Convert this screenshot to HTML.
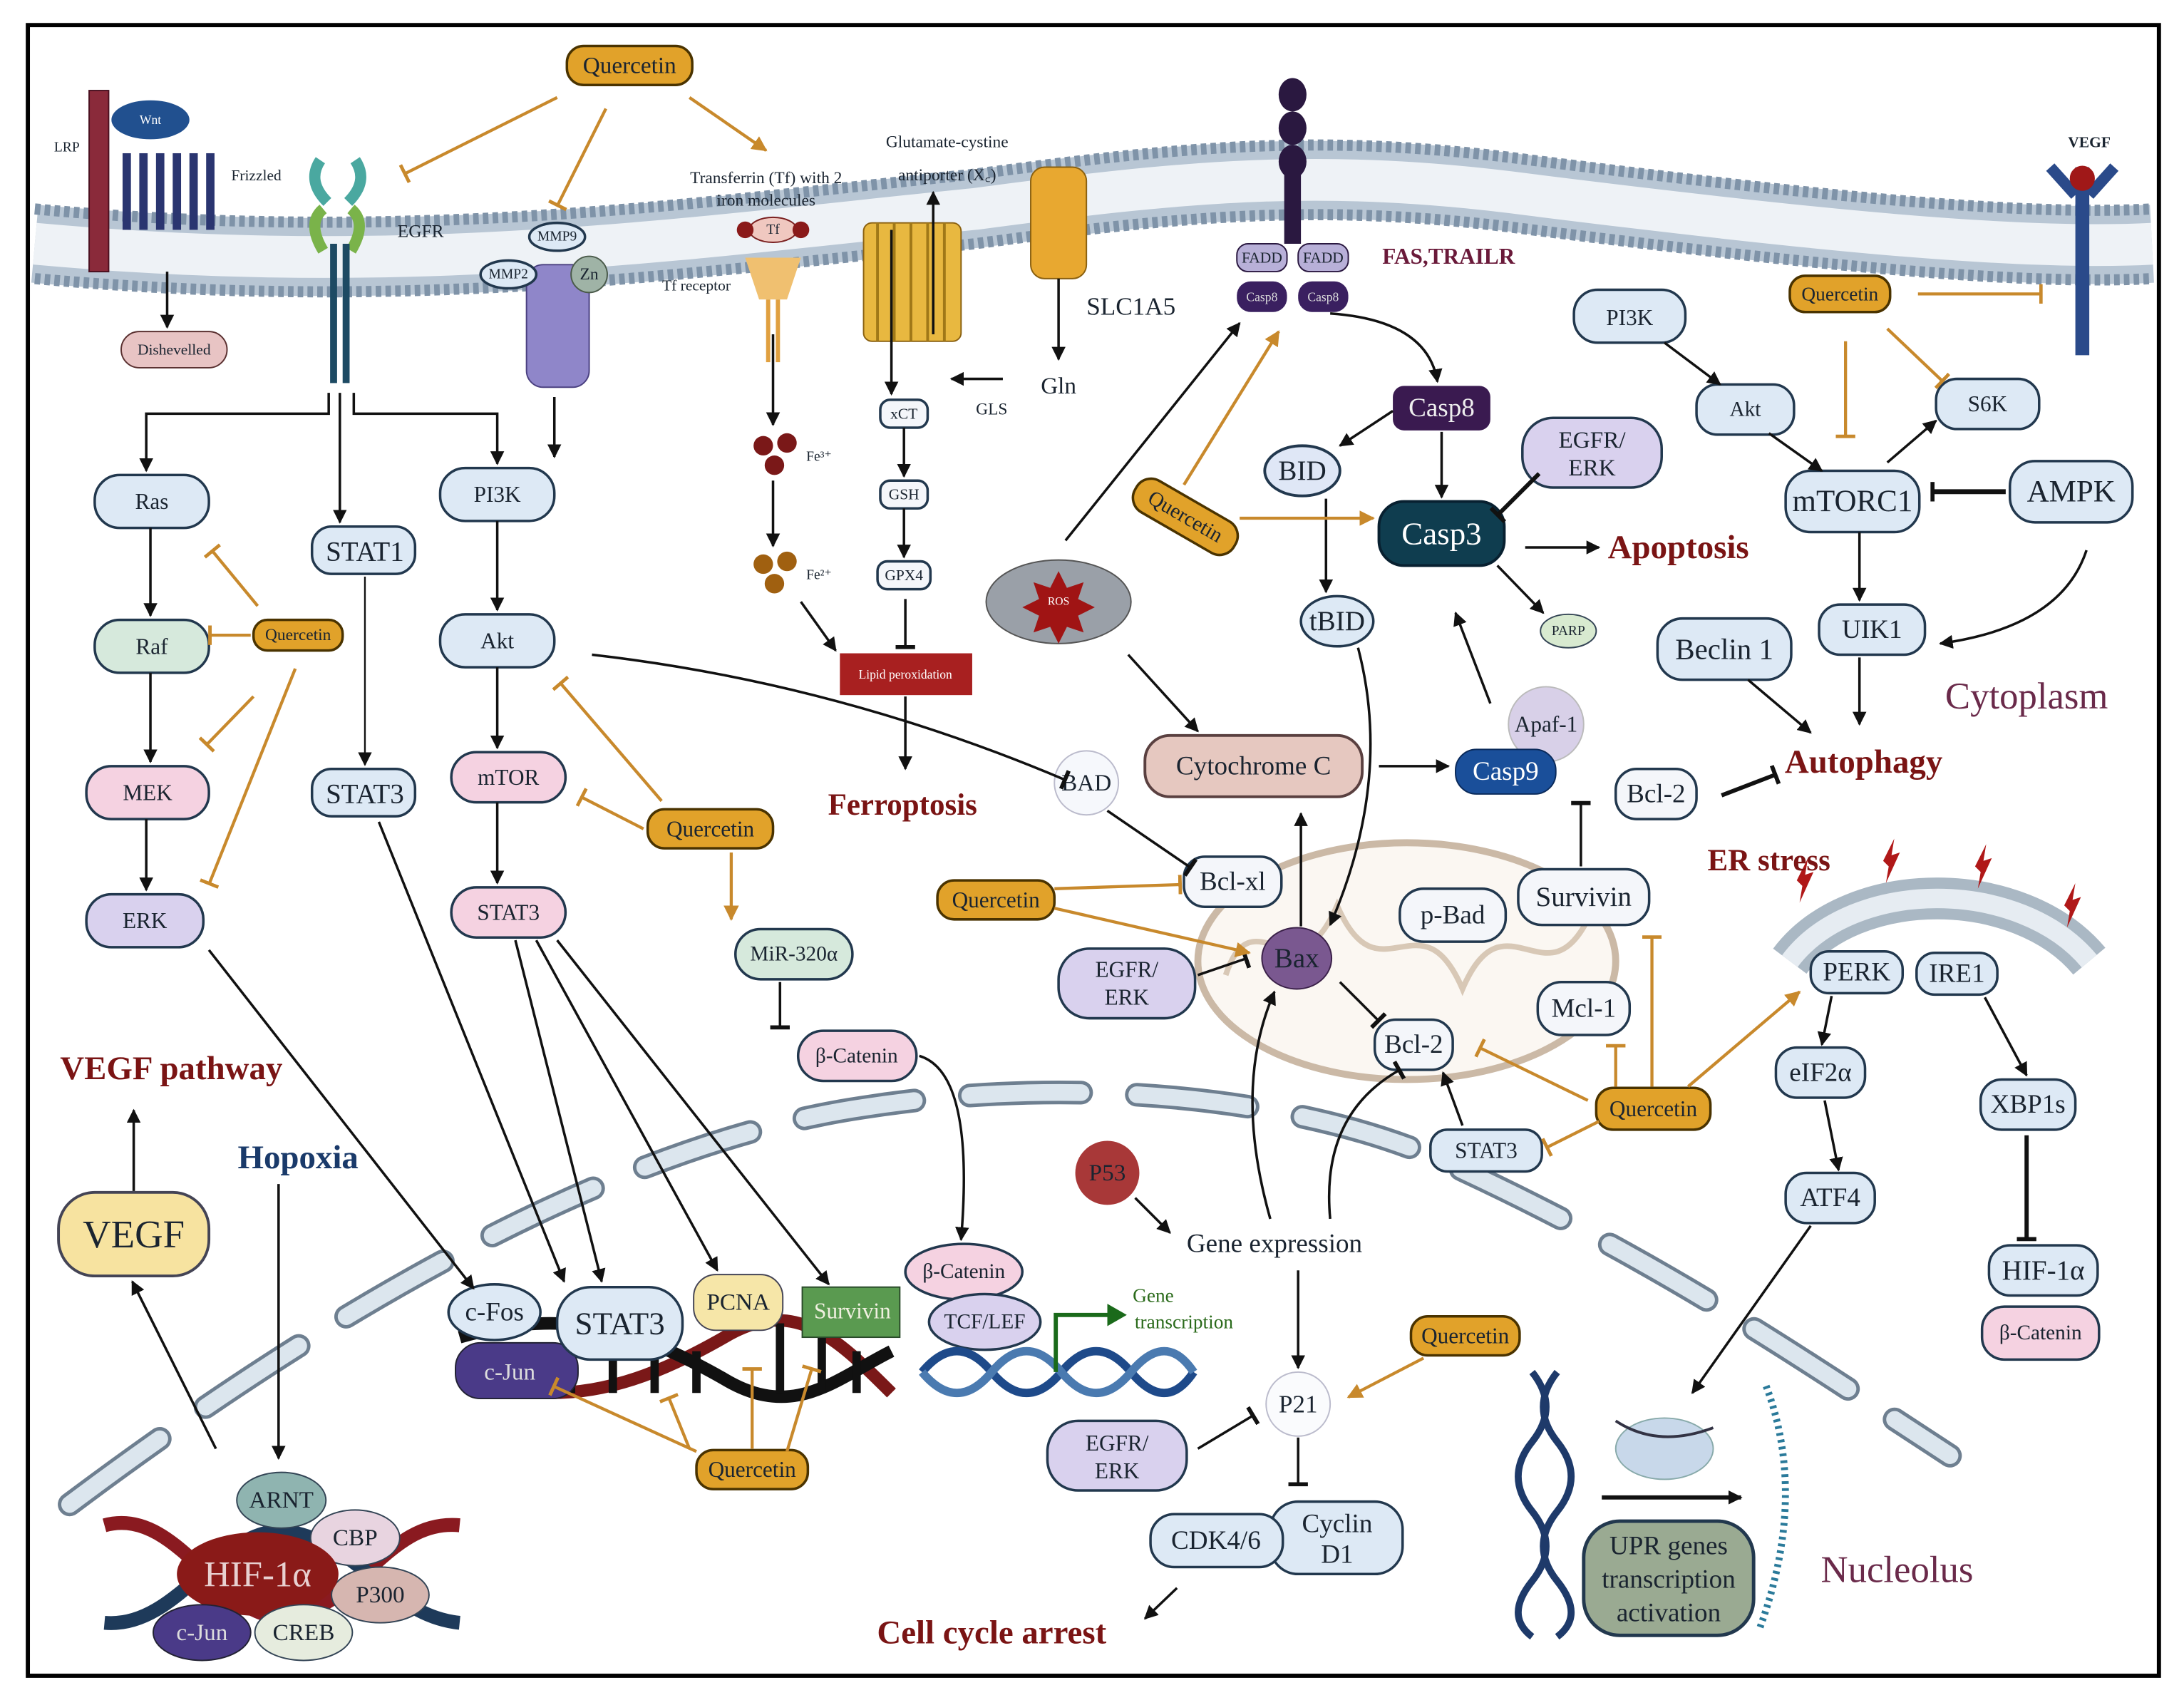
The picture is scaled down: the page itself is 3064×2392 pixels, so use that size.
<!DOCTYPE html>
<html><head><meta charset="utf-8"><style>
html,body{margin:0;padding:0;background:#fff;width:3064px;height:2392px;overflow:hidden}
svg{display:block}
text{font-family:"Liberation Serif",serif;fill:#1a2430;text-anchor:middle;dominant-baseline:central}
.n{stroke:#22384e;stroke-width:1.8}
.b{fill:#dde9f5}.p{fill:#f5d2e1}.g{fill:#d6e9dc}.l{fill:#d9d1ee}.w{fill:#f4f6fa}
.q{fill:#e1a22a;stroke:#4a3300;stroke-width:1.8}
.k{stroke:#111;stroke-width:1.8;fill:none}
.o{stroke:#c8892c;stroke-width:2.2;fill:none}
.t{font-weight:bold;fill:#7a1414}
</style></head><body>
<svg width="3064" height="2392" viewBox="0 0 1568 1224" preserveAspectRatio="none" xmlns="http://www.w3.org/2000/svg">
<defs>
<marker id="ab" viewBox="0 0 10 10" refX="9" refY="5" markerWidth="10" markerHeight="10" markerUnits="userSpaceOnUse" orient="auto"><path d="M0,0L10,5L0,10z" fill="#111"/></marker>
<marker id="ao" viewBox="0 0 10 10" refX="9" refY="5" markerWidth="11" markerHeight="11" markerUnits="userSpaceOnUse" orient="auto"><path d="M0,0L10,5L0,10z" fill="#c8892c"/></marker>
<marker id="bb" viewBox="0 0 4 14" refX="2" refY="7" markerWidth="4" markerHeight="14" markerUnits="userSpaceOnUse" orient="auto"><rect x="0" y="0" width="3" height="14" fill="#111"/></marker>
<marker id="bo" viewBox="0 0 4 14" refX="2" refY="7" markerWidth="4" markerHeight="14" markerUnits="userSpaceOnUse" orient="auto"><rect x="0" y="0" width="2.5" height="14" fill="#c8892c"/></marker>
</defs>
<rect x="0" y="0" width="1568" height="1224" fill="#fff"/>
<rect x="20" y="18" width="1530" height="1185" fill="none" stroke="#000" stroke-width="3"/>

<!-- plasma membrane -->
<path d="M25,175 C300,200 500,170 700,150 C850,130 950,120 1100,140 C1300,165 1450,180 1545,175" stroke="#b8c6d4" stroke-width="56" fill="none"/>
<path d="M25,175 C300,200 500,170 700,150 C850,130 950,120 1100,140 C1300,165 1450,180 1545,175" stroke="#eef2f6" stroke-width="30" fill="none"/>
<path d="M25,150 C300,175 500,145 700,125 C850,105 950,95 1100,115 C1300,140 1450,155 1545,150" stroke="#7f93a8" stroke-width="8" stroke-dasharray="4 3" fill="none"/>
<path d="M25,200 C300,225 500,195 700,175 C850,155 950,145 1100,165 C1300,190 1450,205 1545,200" stroke="#7f93a8" stroke-width="8" stroke-dasharray="4 3" fill="none"/>

<!-- nuclear envelope -->
<path d="M50,1080 C250,930 450,820 620,795 C780,770 950,790 1050,840 C1200,910 1300,980 1400,1045" stroke="#6e7f90" stroke-width="17" stroke-dasharray="80 40" stroke-linecap="round" fill="none"/>
<path d="M50,1080 C250,930 450,820 620,795 C780,770 950,790 1050,840 C1200,910 1300,980 1400,1045" stroke="#dce6ee" stroke-width="12" stroke-dasharray="80 40" stroke-linecap="round" fill="none"/>

<!-- ER -->
<path d="M1285,690 C1330,630 1450,630 1500,690" stroke="#aab8c4" stroke-width="30" fill="none"/>
<path d="M1285,690 C1330,630 1450,630 1500,690" stroke="#e6ecf2" stroke-width="14" fill="none"/>
<g fill="#b01818"><path d="M1290,632l8,-16l-2,12l6,-2l-10,22l2,-12z"/><path d="M1352,618l8,-16l-2,12l6,-2l-10,22l2,-12z"/><path d="M1418,622l8,-16l-2,12l6,-2l-10,22l2,-12z"/><path d="M1482,650l8,-16l-2,12l6,-2l-10,22l2,-12z"/></g>

<!-- mitochondrion -->
<ellipse cx="1010" cy="690" rx="150" ry="85" fill="#fbf7f2" stroke="#cbb9a6" stroke-width="5"/>
<path d="M880,700 C900,640 930,720 960,650 C990,720 1020,640 1050,710 C1080,640 1110,720 1140,660" stroke="#d8c8b6" stroke-width="4" fill="none"/>

<!-- top receptors -->
<rect x="64" y="65" width="14" height="130" fill="#8a2a3a" stroke="#4a1020"/>
<ellipse cx="108" cy="86" rx="28" ry="14" fill="#21508f"/><text x="108" y="86" font-size="9" style="fill:#fff">Wnt</text>
<text x="48" y="106" font-size="10">LRP</text><text x="184" y="126" font-size="11">Frizzled</text>
<g fill="#2a3570"><rect x="88" y="110" width="6" height="55"/><rect x="100" y="110" width="6" height="55"/><rect x="112" y="110" width="6" height="55"/><rect x="124" y="110" width="6" height="55"/><rect x="136" y="110" width="6" height="55"/><rect x="148" y="110" width="6" height="55"/></g>
<rect x="87" y="238" width="76" height="26" rx="13" fill="#e8c4c4" stroke="#5a3030"/><text x="125" y="251" font-size="11" font-family="Liberation Sans">Dishevelled</text>
<path d="M230,115 q-10,15 5,30 M255,115 q10,15 -5,30" stroke="#4aa8a0" stroke-width="8" fill="none"/>
<path d="M232,150 q-12,10 0,30 M252,150 q12,10 0,30" stroke="#7ab34a" stroke-width="8" fill="none"/>
<rect x="237" y="175" width="5" height="100" fill="#1d4a63"/><rect x="246" y="175" width="5" height="100" fill="#1d4a63"/>
<text x="302" y="166" font-size="13" font-family="Liberation Sans">EGFR</text>
<rect x="378" y="190" width="45" height="88" rx="12" fill="#8f86c9" stroke="#4a4080"/>
<ellipse cx="400" cy="170" rx="20" ry="10" class="b n"/><text x="400" y="170" font-size="10">MMP9</text>
<ellipse cx="365" cy="197" rx="20" ry="10" class="b n"/><text x="365" y="197" font-size="10">MMP2</text>
<circle cx="423" cy="197" r="13" fill="#9fb3a6" stroke="#4a5a4a"/><text x="423" y="197" font-size="12">Zn</text>
<text x="550" y="128" font-size="12">Transferrin (Tf) with 2</text><text x="550" y="144" font-size="12">iron molecules</text>
<ellipse cx="555" cy="165" rx="17" ry="9" fill="#f0c8c0" stroke="#7a2020"/><circle cx="535" cy="165" r="6" fill="#8a1a1a"/><circle cx="575" cy="165" r="6" fill="#8a1a1a"/><text x="555" y="165" font-size="10">Tf</text>
<path d="M535,185 l40,0 l-10,30 l-20,0z" fill="#f0c070"/><rect x="550" y="215" width="3" height="45" fill="#e0a040"/><rect x="557" y="215" width="3" height="45" fill="#e0a040"/>
<text x="500" y="205" font-size="11">Tf receptor</text>
<text x="680" y="102" font-size="12">Glutamate-cystine</text><text x="680" y="126" font-size="12">antiporter (X꜀)</text>
<rect x="620" y="160" width="70" height="85" rx="6" fill="#e8b840" stroke="#8a6010"/>
<path d="M630,160v85M642,160v85M654,160v85M666,160v85M678,160v85" stroke="#a07818" stroke-width="2"/>
<rect x="740" y="120" width="40" height="80" rx="10" fill="#e8a830" stroke="#8a6010"/>
<text x="812" y="220" font-size="18">SLC1A5</text><text x="760" y="277" font-size="17">Gln</text><text x="712" y="294" font-size="12">GLS</text>
<g fill="#2a1840"><ellipse cx="928" cy="68" rx="10" ry="12"/><ellipse cx="928" cy="92" rx="10" ry="12"/><ellipse cx="928" cy="116" rx="10" ry="12"/><rect x="922" y="125" width="12" height="50"/></g>
<rect x="888" y="175" width="36" height="20" rx="8" fill="#b8b0d8" stroke="#2a1840"/><text x="906" y="185" font-size="11">FADD</text>
<rect x="932" y="175" width="36" height="20" rx="8" fill="#b8b0d8" stroke="#2a1840"/><text x="950" y="185" font-size="11">FADD</text>
<rect x="888" y="202" width="36" height="22" rx="10" fill="#3a2060"/><text x="906" y="213" font-size="9" style="fill:#ddd">Casp8</text>
<rect x="932" y="202" width="36" height="22" rx="10" fill="#3a2060"/><text x="950" y="213" font-size="9" style="fill:#ddd">Casp8</text>
<text x="1040" y="184" font-size="16" font-weight="bold" style="fill:#6a1a3a">FAS,TRAILR</text>
<rect x="1490" y="120" width="10" height="135" fill="#2a4a8a"/><path d="M1472,120l18,20M1518,120l-18,20" stroke="#2a4a8a" stroke-width="8"/><circle cx="1495" cy="128" r="9" fill="#a01818"/>
<text x="1500" y="102" font-size="11" font-weight="bold" font-family="Liberation Sans">VEGF</text>

<!-- ferroptosis column -->
<circle cx="548" cy="320" r="7" fill="#7a1818"/><circle cx="565" cy="318" r="7" fill="#7a1818"/><circle cx="556" cy="334" r="7" fill="#7a1818"/><text x="588" y="328" font-size="10">Fe³⁺</text>
<circle cx="548" cy="405" r="7" fill="#a06010"/><circle cx="565" cy="403" r="7" fill="#a06010"/><circle cx="556" cy="419" r="7" fill="#a06010"/><text x="588" y="413" font-size="10">Fe²⁺</text>
<rect x="632" y="287" width="34" height="20" rx="7" class="w n"/><text x="649" y="297" font-size="11">xCT</text>
<rect x="632" y="345" width="34" height="20" rx="7" class="w n"/><text x="649" y="355" font-size="11">GSH</text>
<rect x="630" y="403" width="38" height="20" rx="7" class="w n"/><text x="649" y="413" font-size="11">GPX4</text>
<rect x="603" y="469" width="95" height="30" fill="#a82020"/><text x="650" y="484" font-size="9" font-family="Liberation Sans" style="fill:#fff">Lipid peroxidation</text>
<text x="648" y="578" font-size="22" class="t">Ferroptosis</text>
<ellipse cx="760" cy="432" rx="52" ry="30" fill="#9aa0a8" stroke="#555"/><path d="M760,410l6,12l12,-4l-4,12l12,6l-12,6l4,12l-12,-4l-6,12l-6,-12l-12,4l4,-12l-12,-6l12,-6l-4,-12l12,4z" fill="#a01414"/><text x="760" y="432" font-size="8" style="fill:#fff">ROS</text>

<!-- left nodes -->
<g font-size="16">
<rect x="68" y="341" width="82" height="38" rx="18" class="b n"/><text x="109" y="360">Ras</text>
<rect x="68" y="445" width="82" height="38" rx="18" class="g n"/><text x="109" y="464">Raf</text>
<rect x="62" y="550" width="88" height="38" rx="18" class="p n"/><text x="106" y="569">MEK</text>
<rect x="62" y="642" width="84" height="38" rx="18" class="l n"/><text x="104" y="661">ERK</text>
<rect x="224" y="378" width="74" height="34" rx="14" class="b n" stroke-width="2.5"/><text x="262" y="396" font-size="20">STAT1</text>
<rect x="224" y="552" width="74" height="34" rx="14" class="b n" stroke-width="2.5"/><text x="262" y="570" font-size="20">STAT3</text>
<rect x="316" y="336" width="82" height="38" rx="18" class="b n"/><text x="357" y="355">PI3K</text>
<rect x="316" y="441" width="82" height="38" rx="18" class="b n"/><text x="357" y="460">Akt</text>
<rect x="324" y="540" width="82" height="36" rx="18" class="p n"/><text x="365" y="558">mTOR</text>
<rect x="324" y="637" width="82" height="36" rx="18" class="p n"/><text x="365" y="655">STAT3</text>
<rect x="528" y="667" width="84" height="36" rx="18" class="g n"/><text x="570" y="685" font-size="15">MiR-320α</text>
<rect x="573" y="740" width="85" height="36" rx="18" class="p n"/><text x="615" y="758" font-size="15">β-Catenin</text>
</g>
<text x="123" y="767" font-size="24" class="t">VEGF pathway</text>
<text x="214" y="831" font-size="24" font-weight="bold" style="fill:#1a3a6a">Hopoxia</text>
<rect x="42" y="856" width="108" height="60" rx="26" fill="#f7e3a0" stroke="#445" stroke-width="2"/><text x="96" y="886" font-size="28">VEGF</text>
<!-- HIF complex -->
<path d="M75,1095 C130,1080 160,1170 210,1160 C260,1150 280,1090 330,1095" stroke="#8a1a20" stroke-width="10" fill="none"/>
<path d="M75,1165 C130,1170 160,1090 210,1100 C260,1110 280,1160 330,1165" stroke="#1e3a5a" stroke-width="10" fill="none"/>
<ellipse cx="202" cy="1077" rx="32" ry="20" fill="#8fb4b0" stroke="#345"/><text x="202" y="1077" font-size="17">ARNT</text>
<ellipse cx="255" cy="1104" rx="32" ry="20" fill="#e8d4e0" stroke="#345"/><text x="255" y="1104" font-size="17">CBP</text>
<ellipse cx="273" cy="1145" rx="35" ry="20" fill="#d6b6b0" stroke="#345"/><text x="273" y="1145" font-size="17">P300</text>
<ellipse cx="185" cy="1130" rx="58" ry="30" fill="#8a1a18"/><text x="185" y="1130" font-size="26" style="fill:#e8d0d0">HIF-1α</text>
<ellipse cx="218" cy="1172" rx="35" ry="20" fill="#e6ecde" stroke="#345"/><text x="218" y="1172" font-size="17">CREB</text>
<ellipse cx="145" cy="1172" rx="35" ry="20" fill="#4a3a88" stroke="#223"/><text x="145" y="1172" font-size="17" style="fill:#ddd">c-Jun</text>

<!-- DNA middle -->
<path d="M330,990 C400,1010 450,1000 520,960 C570,930 600,960 640,1000" stroke="#7a1818" stroke-width="9" fill="none"/>
<path d="M330,960 C400,940 450,950 520,990 C570,1020 600,990 640,970" stroke="#111" stroke-width="9" fill="none"/>
<path d="M410,970v30M440,970v30M470,970v30M500,970v30M560,950v50M590,960v40M615,970v30" stroke="#111" stroke-width="6"/>
<rect x="327" y="964" width="88" height="40" rx="18" fill="#4a3a88" stroke="#223"/><text x="366" y="985" font-size="17" style="fill:#ddd">c-Jun</text>
<ellipse cx="355" cy="942" rx="33" ry="20" class="b n" stroke-width="2.5"/><text x="355" y="942" font-size="19">c-Fos</text>
<rect x="400" y="924" width="90" height="52" rx="24" class="b n" stroke-width="2.5"/><text x="445" y="950" font-size="23">STAT3</text>
<rect x="498" y="915" width="64" height="40" rx="16" fill="#f6e6a8" stroke="#445"/><text x="530" y="935" font-size="17">PCNA</text>
<rect x="576" y="924" width="70" height="36" fill="#5a9a50" stroke="#2a4a2a"/><text x="612" y="941" font-size="16" style="fill:#f0f0e0">Survivin</text>
<ellipse cx="692" cy="913" rx="42" ry="20" class="p n"/><text x="692" y="913" font-size="15">β-Catenin</text>
<ellipse cx="707" cy="949" rx="40" ry="20" class="l n"/><text x="707" y="949" font-size="15">TCF/LEF</text>
<path d="M662,985 q25,-30 50,0 q25,30 50,0 q25,-30 50,0 q25,30 45,0" stroke="#1e4a8a" stroke-width="6" fill="none"/>
<path d="M662,985 q25,30 50,0 q25,-30 50,0 q25,30 50,0 q25,-30 45,0" stroke="#4a7ab0" stroke-width="6" fill="none"/>
<path d="M758,985V944H795" stroke="#1a6a1a" stroke-width="3" fill="none"/><path d="M795,936l14,8l-14,8z" fill="#1a6a1a"/>
<text x="828" y="930" font-size="14" style="fill:#2a6a1a">Gene</text><text x="850" y="949" font-size="14" style="fill:#2a6a1a">transcription</text>

<!-- right/middle nodes -->
<rect x="1000" y="277" width="70" height="32" rx="8" fill="#3a1a50"/><text x="1035" y="293" font-size="19" style="fill:#eee">Casp8</text>
<ellipse cx="935" cy="338" rx="27" ry="18" fill="#dfe7f6" stroke="#22384e" stroke-width="2"/><text x="935" y="338" font-size="20">BID</text>
<rect x="1093" y="300" width="100" height="50" rx="22" class="l n"/><text x="1143" y="316" font-size="17">EGFR/</text><text x="1143" y="336" font-size="17">ERK</text>
<rect x="810" y="358" width="82" height="26" rx="12" class="q" transform="rotate(30 851 371)"/><text x="851" y="371" font-size="15" transform="rotate(30 851 371)">Quercetin</text>
<rect x="990" y="360" width="90" height="46" rx="18" fill="#0f3d4f" stroke="#082030" stroke-width="2"/><text x="1035" y="383" font-size="23" style="fill:#fff">Casp3</text>
<text x="1205" y="393" font-size="24" class="t">Apoptosis</text>
<ellipse cx="960" cy="446" rx="26" ry="18" class="b n" stroke-width="2"/><text x="960" y="446" font-size="20">tBID</text>
<ellipse cx="1126" cy="453" rx="20" ry="12" fill="#d8ead0" stroke="#345"/><text x="1126" y="453" font-size="10">PARP</text>
<circle cx="1110" cy="520" r="27" fill="#d8d0e8" stroke="#bbb"/><text x="1110" y="520" font-size="16">Apaf-1</text>
<rect x="1045" y="538" width="72" height="32" rx="15" fill="#1a4f9a" stroke="#0a2a5a"/><text x="1081" y="554" font-size="19" style="fill:#fff">Casp9</text>
<rect x="822" y="528" width="156" height="44" rx="18" fill="#e6c8c0" stroke="#5a4040" stroke-width="2"/><text x="900" y="550" font-size="19">Cytochrome C</text>
<circle cx="780" cy="562" r="23" fill="#f6f8fc" stroke="#bbc"/><text x="780" y="562" font-size="17">BAD</text>
<rect x="850" y="615" width="70" height="36" rx="15" class="w n"/><text x="885" y="633" font-size="19">Bcl-xl</text>
<ellipse cx="931" cy="688" rx="25" ry="22" fill="#7a5890" stroke="#3a2048"/><text x="931" y="688" font-size="20">Bax</text>
<rect x="1005" y="638" width="76" height="38" rx="17" class="w n"/><text x="1043" y="657" font-size="19">p-Bad</text>
<rect x="1090" y="624" width="94" height="40" rx="17" class="w n"/><text x="1137" y="644" font-size="20">Survivin</text>
<rect x="1104" y="705" width="66" height="38" rx="17" class="w n"/><text x="1137" y="724" font-size="19">Mcl-1</text>
<rect x="987" y="732" width="56" height="36" rx="15" class="w n"/><text x="1015" y="750" font-size="19">Bcl-2</text>
<rect x="1027" y="811" width="80" height="30" rx="12" class="b n"/><text x="1067" y="826" font-size="16">STAT3</text>
<rect x="760" y="681" width="98" height="50" rx="22" class="l n"/><text x="809" y="696" font-size="16">EGFR/</text><text x="809" y="716" font-size="16">ERK</text>
<circle cx="795" cy="842" r="23" fill="#a83838"/><text x="795" y="842" font-size="17">P53</text>
<text x="915" y="893" font-size="19">Gene expression</text>
<circle cx="932" cy="1008" r="23" fill="#fafbfd" stroke="#bbc"/><text x="932" y="1008" font-size="18">P21</text>
<rect x="752" y="1020" width="100" height="50" rx="22" class="l n"/><text x="802" y="1036" font-size="16">EGFR/</text><text x="802" y="1056" font-size="16">ERK</text>
<rect x="912" y="1078" width="95" height="52" rx="20" class="b n" stroke-width="2.5"/><text x="960" y="1094" font-size="19">Cyclin</text><text x="960" y="1116" font-size="19">D1</text>
<rect x="826" y="1087" width="95" height="38" rx="17" class="b n" stroke-width="2.5"/><text x="873" y="1106" font-size="19">CDK4/6</text>
<text x="712" y="1172" font-size="24" class="t">Cell cycle arrest</text>

<rect x="1130" y="208" width="80" height="38" rx="17" class="b n"/><text x="1170" y="228" font-size="16">PI3K</text>
<rect x="1218" y="276" width="70" height="36" rx="15" class="b n"/><text x="1253" y="294" font-size="15">Akt</text>
<rect x="1282" y="338" width="96" height="44" rx="18" class="b n" stroke-width="2.5"/><text x="1330" y="360" font-size="22">mTORC1</text>
<rect x="1390" y="272" width="74" height="36" rx="15" class="b n"/><text x="1427" y="290" font-size="16">S6K</text>
<rect x="1443" y="331" width="88" height="44" rx="18" class="b n" stroke-width="2.5"/><text x="1487" y="353" font-size="22">AMPK</text>
<rect x="1306" y="434" width="76" height="36" rx="15" class="b n" stroke-width="2.5"/><text x="1344" y="452" font-size="19">UIK1</text>
<rect x="1190" y="444" width="96" height="44" rx="18" class="b n" stroke-width="2.5"/><text x="1238" y="466" font-size="21">Beclin 1</text>
<rect x="1160" y="552" width="58" height="36" rx="15" class="w n"/><text x="1189" y="570" font-size="19">Bcl-2</text>
<text x="1338" y="547" font-size="24" class="t">Autophagy</text>
<text x="1455" y="500" font-size="27" style="fill:#6a2a4a">Cytoplasm</text>
<text x="1270" y="618" font-size="22" class="t">ER stress</text>
<rect x="1300" y="683" width="66" height="30" rx="13" class="b n" stroke-width="2.5"/><text x="1333" y="698" font-size="19">PERK</text>
<rect x="1376" y="684" width="58" height="30" rx="13" class="b n" stroke-width="2.5"/><text x="1405" y="699" font-size="19">IRE1</text>
<rect x="1275" y="752" width="64" height="36" rx="15" class="b n" stroke-width="2.5"/><text x="1307" y="770" font-size="19">eIF2α</text>
<rect x="1422" y="775" width="68" height="36" rx="15" class="b n" stroke-width="2.5"/><text x="1456" y="793" font-size="19">XBP1s</text>
<rect x="1282" y="842" width="64" height="36" rx="15" class="b n" stroke-width="2.5"/><text x="1314" y="860" font-size="19">ATF4</text>
<rect x="1428" y="894" width="78" height="36" rx="15" class="b n" stroke-width="2.5"/><text x="1467" y="912" font-size="20">HIF-1α</text>
<rect x="1423" y="938" width="84" height="38" rx="16" class="p n"/><text x="1465" y="957" font-size="15">β-Catenin</text>
<!-- DNA right, ribosome -->
<path d="M1100,985 q20,25 0,50 q-20,25 0,50 q20,25 0,50 q-20,25 0,40" stroke="#1e3a6a" stroke-width="5" fill="none"/>
<path d="M1118,985 q-20,25 0,50 q20,25 0,50 q-20,25 0,50 q20,25 0,40" stroke="#1e3a6a" stroke-width="5" fill="none"/>
<ellipse cx="1195" cy="1040" rx="35" ry="22" fill="#c8d8ea" stroke="#8aa"/><path d="M1160,1020 q30,20 70,5" stroke="#334" stroke-width="2" fill="none"/>
<path d="M1268,995 q30,80 -5,175" stroke="#2a7a9a" stroke-width="5" stroke-dasharray="2 3" fill="none"/>
<rect x="1137" y="1092" width="122" height="82" rx="26" fill="#9aaa92" stroke="#22384e" stroke-width="2.5"/><text x="1198" y="1110" font-size="19">UPR genes</text><text x="1198" y="1134" font-size="19">transcription</text><text x="1198" y="1158" font-size="19">activation</text>
<text x="1362" y="1127" font-size="27" style="fill:#6a2a4a">Nucleolus</text>

<!-- Quercetins -->
<g font-size="16">
<rect x="407" y="33" width="90" height="28" rx="12" class="q"/><text x="452" y="47" font-size="17">Quercetin</text>
<rect x="182" y="445" width="64" height="22" rx="10" class="q"/><text x="214" y="456" font-size="12">Quercetin</text>
<rect x="465" y="581" width="90" height="28" rx="12" class="q"/><text x="510" y="595">Quercetin</text>
<rect x="673" y="632" width="84" height="28" rx="12" class="q"/><text x="715" y="646">Quercetin</text>
<rect x="1285" y="198" width="72" height="26" rx="11" class="q"/><text x="1321" y="211" font-size="14">Quercetin</text>
<rect x="1146" y="781" width="82" height="30" rx="12" class="q"/><text x="1187" y="796">Quercetin</text>
<rect x="1013" y="945" width="78" height="28" rx="12" class="q"/><text x="1052" y="959">Quercetin</text>
<rect x="500" y="1041" width="80" height="28" rx="12" class="q"/><text x="540" y="1055">Quercetin</text>
</g>

<!-- black edges -->
<g class="k" marker-end="url(#ab)">
<path d="M120,195V235"/><path d="M236,282V297H105V338"/><path d="M244,282V375"/><path d="M254,282V297H357V333"/>
<path d="M398,285V328"/><path d="M108,379V442"/><path d="M108,483V547"/><path d="M105,588V639"/>
<path d="M262,414V549" stroke-width="1.2"/><path d="M357,374V438"/><path d="M357,479V537"/><path d="M357,576V634"/>
<path d="M150,682L340,925"/><path d="M272,590L405,920"/><path d="M370,675L432,920"/><path d="M385,675L515,912"/><path d="M400,675L595,922"/>
<path d="M660,758Q700,770 690,890"/>
<path d="M555,240V305"/><path d="M555,345V392"/><path d="M575,432L600,467"/>
<path d="M649,307V342"/><path d="M649,365V400"/><path d="M650,500V552"/>
<path d="M720,272H683"/><path d="M760,200V258"/><path d="M670,240V138"/><path d="M640,165V283"/>
<path d="M765,388L890,232"/><path d="M810,470L860,525"/>
<path d="M955,225Q1025,230 1032,274"/><path d="M1000,295L962,320"/><path d="M1035,310V357"/>
<path d="M952,358V425"/><path d="M1095,393H1148"/><path d="M1075,406L1108,440"/>
<path d="M975,465Q1000,560 955,664"/><path d="M1070,505L1045,440"/><path d="M990,550H1040"/>
<path d="M934,665V584"/><path d="M1050,808L1036,770"/><path d="M815,860L840,885"/>
<path d="M912,875Q885,780 915,712"/><path d="M932,912V982"/><path d="M845,1140L822,1162"/>
<path d="M1195,246L1235,276"/><path d="M1270,311L1308,338"/><path d="M1355,332L1390,302"/>
<path d="M1335,382V431"/><path d="M1498,395Q1480,450 1393,462"/><path d="M1335,472V520"/><path d="M1255,488L1300,526"/>
<path d="M1315,715L1308,750"/><path d="M1310,790L1320,840"/><path d="M1425,716L1455,772"/>
<path d="M1300,880L1215,1000"/><path d="M1150,1075H1250" stroke-width="3"/>
<path d="M96,855V797"/><path d="M200,850V1047"/><path d="M155,1040L95,920"/>
</g>
<g class="k" marker-end="url(#bb)">
<path d="M425,470Q600,490 765,560"/><path d="M795,582L855,623"/><path d="M650,430V465"/>
<path d="M1105,340L1075,370" stroke-width="3"/><path d="M1135,622V576"/><path d="M962,705L990,733"/>
<path d="M860,700L895,688"/><path d="M955,875Q948,800 1005,768"/><path d="M860,1040L900,1016"/>
<path d="M932,1032V1066"/><path d="M1440,353H1387" stroke-width="3.5"/><path d="M1236,571L1275,556" stroke-width="3"/>
<path d="M1455,815V890" stroke-width="3"/><path d="M560,705V738"/>
</g>
<!-- orange edges -->
<g class="o" marker-end="url(#bo)">
<path d="M400,70L290,125"/><path d="M435,78L400,148"/>
<path d="M180,456H150"/><path d="M185,435L152,395"/><path d="M182,500L148,535"/><path d="M212,480L150,635"/>
<path d="M475,575L402,490"/><path d="M462,595L417,572"/>
<path d="M757,638L848,635"/>
<path d="M1140,790L1062,752"/><path d="M1148,805L1110,824"/><path d="M1160,780V750"/><path d="M1186,780V672"/>
<path d="M1377,211H1466"/><path d="M1355,236L1395,274"/><path d="M1325,245V314"/>
<path d="M500,1042L397,995"/><path d="M495,1040L480,1003"/><path d="M540,1040V982"/><path d="M565,1042L583,982"/>
</g>
<g class="o" marker-end="url(#ao)">
<path d="M495,70L550,108"/><path d="M525,612V660"/><path d="M850,348L918,238"/><path d="M890,372H986"/>
<path d="M757,652L897,684"/><path d="M1212,780L1292,712"/><path d="M1022,975L968,1003"/>
</g>
</svg>
</body></html>
